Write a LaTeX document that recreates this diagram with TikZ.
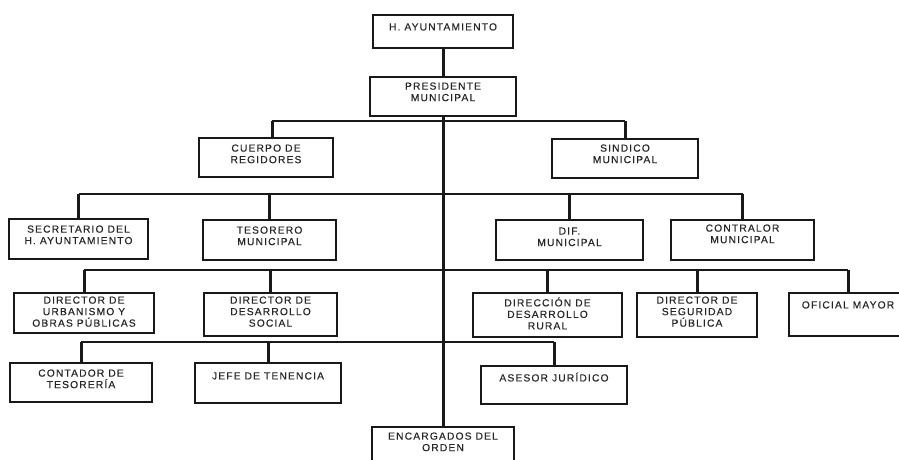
\documentclass[tikz,border=0pt]{standalone}
\usepackage{fontspec}
\newfontfamily\lblfont[LetterSpace=11,FakeBold=0.3]{Liberation Sans}
\begin{document}
\begin{tikzpicture}[x=1pt,y=-1pt,
  box/.style={draw=black!90, line width=1.5pt, rectangle, inner sep=0pt, fill=none},
  lbl/.style={anchor=north, inner sep=0pt, align=center, text=black!85,
    font=\lblfont\fontsize{10.3}{11.5}\selectfont, execute at begin node={\rule{0pt}{10pt}}},
  bus/.style={line width=2pt, draw=black!90},
  stem/.style={line width=3pt, draw=black!90}]
\useasboundingbox (0,0) rectangle (899,459);
\clip (0,0) rectangle (899,459);
% boxes: center, width, height
\newcommand{\orgbox}[4]{\node[box, minimum width=#3, minimum height=#4] (#1) at (#2) {};}
\orgbox{hay}{443,31.5}{140pt}{33pt}
\orgbox{pres}{443,96.5}{146pt}{39pt}
\orgbox{cuerpo}{266,157.5}{134pt}{39pt}
\orgbox{sind}{625,158.5}{146pt}{39pt}
\orgbox{secr}{78.5,239}{139pt}{40pt}
\orgbox{teso}{269.5,240}{133pt}{40pt}
\orgbox{dif}{569.5,240}{147pt}{40pt}
\orgbox{contr}{742.5,240}{143pt}{40pt}
\orgbox{urb}{84,313}{140pt}{40pt}
\orgbox{soc}{270.5,314.5}{133pt}{43pt}
\orgbox{rur}{547.5,315}{149pt}{44pt}
\orgbox{seg}{697,315}{120pt}{44pt}
\orgbox{ofi}{848,314.5}{118pt}{43pt}
\orgbox{cont}{81,382.5}{142pt}{39pt}
\orgbox{jefe}{268,383}{146pt}{40pt}
\orgbox{ases}{554,385}{146pt}{38pt}
\orgbox{enc}{443,448.5}{142pt}{43pt}
% labels
\node[lbl] at ([yshift=-6pt]hay.north) {H. AYUNTAMIENTO};
\node[lbl] at ([yshift=-6pt]pres.north) {PRESIDENTE\\MUNICIPAL};
\node[lbl] at ([yshift=-7pt]cuerpo.north) {CUERPO DE\\REGIDORES};
\node[lbl] at ([yshift=-6pt]sind.north) {SINDICO\\MUNICIPAL};
\node[lbl] at ([yshift=-7pt]secr.north) {SECRETARIO DEL\\H. AYUNTAMIENTO};
\node[lbl] at ([yshift=-7pt]teso.north) {TESORERO\\MUNICIPAL};
\node[lbl] at ([yshift=-8pt]dif.north) {DIF.\\MUNICIPAL};
\node[lbl] at ([yshift=-5pt]contr.north) {CONTRALOR\\MUNICIPAL};
\node[lbl] at ([yshift=-4pt]urb.north) {DIRECTOR DE\\URBANISMO Y\\OBRAS PÚBLICAS};
\node[lbl] at ([yshift=-4pt]soc.north) {DIRECTOR DE\\DESARROLLO\\SOCIAL};
\node[lbl] at ([yshift=-5pt]rur.north) {DIRECCIÓN DE\\DESARROLLO\\RURAL};
\node[lbl] at ([yshift=-4pt]seg.north) {DIRECTOR DE\\SEGURIDAD\\PÚBLICA};
\node[lbl] at ([yshift=-6pt]ofi.north) {OFICIAL MAYOR};
\node[lbl] at ([yshift=-7pt]cont.north) {CONTADOR DE\\TESORERÍA};
\node[lbl] at ([yshift=-7pt]jefe.north) {JEFE DE TENENCIA};
\node[lbl] at ([yshift=-6pt]ases.north) {ASESOR JURÍDICO};
\node[lbl] at ([yshift=-6pt]enc.north) {ENCARGADOS DEL\\ORDEN};
% buses
\coordinate (b1) at (0,121);
\coordinate (b2) at (0,194);
\coordinate (b3) at (0,270);
\coordinate (b4) at (0,342);
\draw[bus] ([xshift=6pt]cuerpo.north |- b1) -- (sind.north |- b1);
\draw[bus] (secr.north |- b2) -- (contr.north |- b2);
\draw[bus] (urb.north |- b3) -- (ofi.north |- b3);
\draw[bus] (cont.north |- b4) -- (ases.north |- b4);
% main trunk
\draw[stem] (hay.south) -- (pres.north);
\draw[stem] (pres.south) -- (enc.north);
% stems
\draw[stem] ([xshift=6pt]cuerpo.north) -- ([xshift=6pt]cuerpo.north |- b1);
\draw[stem] (sind.north) -- (sind.north |- b1);
\foreach \n in {secr,teso,dif,contr}{\draw[stem] (\n.north) -- (\n.north |- b2);}
\foreach \n in {urb,soc,rur,seg,ofi}{\draw[stem] (\n.north) -- (\n.north |- b3);}
\foreach \n in {cont,jefe,ases}{\draw[stem] (\n.north) -- (\n.north |- b4);}
\end{tikzpicture}
\end{document}
